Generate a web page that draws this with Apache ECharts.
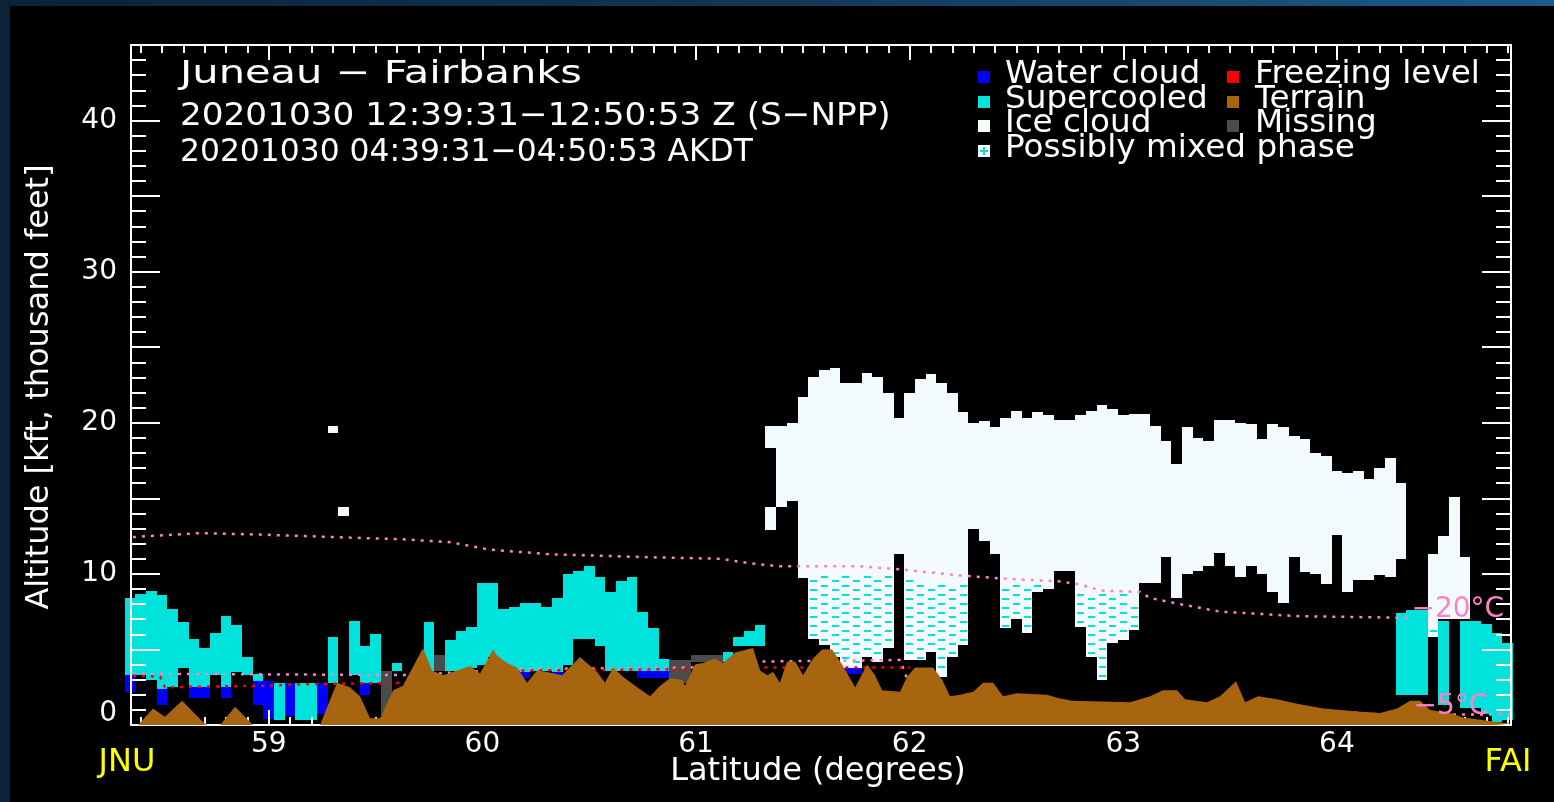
<!DOCTYPE html>
<html>
<head>
<meta charset="utf-8">
<title>Juneau - Fairbanks cloud profile</title>
<script src="https://cdn.jsdelivr.net/npm/echarts@6/dist/echarts.min.js"></script>
<style>
  html, body { margin: 0; padding: 0; width: 1554px; height: 802px; overflow: hidden;
    background: linear-gradient(90deg, #0b2338 0%, #113452 45%, #1b5c8a 100%); }
  #panel { position: absolute; left: 10px; top: 6px; right: 0; bottom: 0; background: #000; }
  #chart { position: absolute; left: 0; top: 0; width: 1554px; height: 802px; }
</style>
</head>
<body>
<div id="panel"></div>
<div id="chart"></div>
<script>
// axis range: JNU .. FAI latitude, altitude in kft
const latMin = 58.355, latMax = 64.815;
const latTicks = [59, 60, 61, 62, 63, 64];
const altMax = 45;
const colHalf = 0.025;   // half width of one profile column (deg)

// profile columns: [latitude, bottom kft, top kft]
const waterCloud = [
  [58.35, 2.2, 3.3], [58.50, 1.3, 2.4], [58.65, 1.8, 2.5], [58.70, 1.8, 2.5], [58.80, 1.8, 2.5],
  [58.95, 1.3, 2.9], [59.00, 0.4, 2.9], [59.10, 0.6, 2.8], [59.25, 0.7, 2.8], [59.45, 2.0, 2.8],
  [60.20, 3.1, 3.5], [60.35, 3.1, 3.5], [60.75, 3.1, 3.6], [60.80, 3.1, 3.6], [60.85, 3.1, 3.6],
  [61.70, 3.4, 3.8], [61.75, 3.4, 3.8]
];
const supercooled = [
  [58.35, 3.3, 8.4], [58.40, 3.3, 8.7], [58.45, 3.0, 8.9], [58.50, 2.4, 8.6], [58.55, 2.5, 7.7],
  [58.60, 3.8, 6.8], [58.65, 2.5, 5.7], [58.70, 2.5, 5.1], [58.75, 3.3, 6.1], [58.80, 2.5, 7.2],
  [58.85, 3.5, 6.6], [58.90, 3.3, 4.5], [58.95, 2.9, 3.4], [59.05, 0.3, 2.8], [59.15, 0.3, 2.8],
  [59.20, 0.3, 2.8], [59.30, 2.8, 5.8], [59.40, 3.3, 6.9], [59.45, 2.8, 5.2], [59.50, 2.8, 6.0],
  [59.60, 3.6, 4.1], [59.75, 3.6, 6.8], [59.85, 3.6, 5.6], [59.90, 3.6, 6.2], [59.95, 3.8, 6.5],
  [60.00, 4.0, 9.4], [60.05, 4.5, 9.4], [60.10, 4.0, 7.7], [60.15, 3.6, 7.8], [60.20, 3.5, 8.1],
  [60.25, 3.6, 8.1], [60.30, 3.6, 7.8], [60.35, 3.5, 8.4], [60.40, 4.0, 10.0], [60.45, 5.7, 10.2],
  [60.50, 5.7, 10.5], [60.55, 5.2, 9.8], [60.60, 3.6, 8.8], [60.65, 3.6, 9.5], [60.70, 3.6, 9.8],
  [60.75, 3.6, 7.5], [60.80, 3.6, 6.4], [60.85, 3.6, 4.4], [61.15, 4.2, 4.8], [61.20, 5.2, 5.8],
  [61.25, 5.2, 6.2], [61.30, 5.2, 6.6],
  [64.30, 2.0, 7.4], [64.35, 2.0, 7.6], [64.40, 2.0, 7.6], [64.50, 1.3, 6.9], [64.60, 1.1, 6.9],
  [64.65, 1.1, 6.9], [64.70, 0.7, 6.7], [64.75, 0.2, 6.1], [64.80, 0.3, 5.4]
];
const iceCloud = [
  [59.30, 19.3, 19.8], [59.35, 13.8, 14.4],
  [61.35, 12.9, 14.4], [61.35, 18.3, 19.8], [61.40, 14.4, 19.8], [61.45, 14.8, 20.0],
  [61.50, 10.4, 21.7], [61.55, 10.4, 23.0], [61.60, 10.4, 23.5], [61.65, 10.4, 23.6],
  [61.70, 10.4, 22.6], [61.75, 10.4, 22.6], [61.80, 10.3, 23.3], [61.85, 10.3, 23.0],
  [61.90, 10.3, 22.0], [61.95, 11.3, 20.3], [62.00, 10.1, 22.0], [62.05, 9.9, 22.9],
  [62.10, 9.9, 23.2], [62.15, 9.9, 22.6], [62.20, 9.9, 22.0], [62.25, 9.8, 20.7],
  [62.30, 13.0, 20.0], [62.35, 12.2, 20.1], [62.40, 11.3, 19.7], [62.45, 9.6, 20.3],
  [62.50, 9.6, 20.8], [62.55, 9.6, 20.3], [62.60, 9.5, 20.7], [62.65, 9.5, 20.5],
  [62.70, 10.2, 20.2], [62.75, 10.2, 20.2], [62.80, 9.2, 20.5], [62.85, 9.1, 20.8],
  [62.90, 9.0, 21.2], [62.95, 8.9, 20.9], [63.00, 8.9, 20.5], [63.05, 8.8, 20.6],
  [63.10, 9.4, 20.6], [63.15, 9.4, 19.8], [63.20, 11.1, 18.8], [63.25, 8.4, 17.3],
  [63.30, 10.0, 19.7], [63.35, 10.2, 19.0], [63.40, 10.5, 18.8], [63.45, 11.4, 20.2],
  [63.50, 10.5, 20.2], [63.55, 9.8, 20.0], [63.60, 10.5, 19.9], [63.65, 10.0, 18.9],
  [63.70, 8.8, 19.9], [63.75, 8.1, 19.7], [63.80, 11.1, 19.1], [63.85, 10.1, 18.9],
  [63.90, 10.0, 18.0], [63.95, 9.3, 17.8], [64.00, 12.6, 16.8], [64.05, 8.8, 16.7],
  [64.10, 9.6, 16.8], [64.15, 9.6, 16.3], [64.20, 9.9, 17.0], [64.25, 9.8, 17.7],
  [64.30, 11.0, 16.0], [64.45, 6.8, 11.3], [64.50, 7.0, 12.5], [64.55, 7.0, 15.1],
  [64.60, 7.0, 11.1]
];
const mixedPhase = [
  [61.50, 9.7, 10.4], [61.55, 5.7, 10.4], [61.60, 5.3, 10.4], [61.65, 4.5, 10.4],
  [61.70, 3.8, 10.4], [61.75, 3.8, 10.4], [61.80, 4.5, 10.3], [61.85, 4.2, 10.3],
  [61.90, 5.1, 10.3], [62.00, 4.3, 10.1], [62.05, 4.3, 9.9], [62.10, 4.8, 9.9],
  [62.15, 3.2, 9.9], [62.20, 4.5, 9.9], [62.25, 5.3, 9.8], [62.45, 6.4, 9.6],
  [62.50, 7.0, 9.6], [62.55, 6.1, 9.6], [62.60, 8.8, 9.5], [62.65, 9.0, 9.5],
  [62.80, 6.5, 9.2], [62.85, 4.5, 9.1], [62.90, 3.0, 9.0], [62.95, 5.4, 8.9],
  [63.00, 5.6, 8.9], [63.05, 6.3, 8.8], [64.45, 5.8, 6.8]
];
const missing = [
  [59.55, 0.65, 3.6], [59.80, 3.6, 4.6], [60.90, 2.8, 4.3], [60.95, 2.8, 4.3],
  [61.00, 4.2, 4.6], [61.05, 4.2, 4.6], [61.10, 4.2, 4.6]
];

// terrain height along track: [latitude, kft]
const terrain = [
  [58.322, 0], [58.388, 0], [58.458, 1.1], [58.514, 0.55], [58.594, 1.6], [58.692, 0.2], [58.711, 0],
  [58.772, 0], [58.842, 1.2], [58.926, 0], [59.240, 0], [59.319, 2.8], [59.380, 2.5], [59.427, 1.9],
  [59.474, 0.45], [59.521, 0.45], [59.582, 2.3], [59.628, 2.6], [59.722, 5.1], [59.764, 3.6],
  [59.816, 3.3], [59.881, 3.6], [59.942, 3.9], [59.989, 3.4], [60.050, 5.0], [60.068, 4.6],
  [60.115, 4.1], [60.162, 3.8], [60.209, 2.8], [60.256, 3.6], [60.303, 3.5], [60.373, 3.3],
  [60.457, 4.5], [60.537, 3.5], [60.574, 2.8], [60.612, 3.8], [60.658, 3.2], [60.724, 2.5],
  [60.785, 1.9], [60.832, 2.6], [60.878, 3.1], [60.935, 3.0], [60.949, 2.6], [60.995, 4.0],
  [61.033, 4.1], [61.089, 4.4], [61.127, 4.1], [61.183, 4.8], [61.239, 5.0], [61.267, 5.1],
  [61.300, 3.6], [61.333, 3.3], [61.361, 3.5], [61.393, 2.8], [61.426, 4.2], [61.464, 4.2],
  [61.501, 3.3], [61.548, 4.4], [61.590, 5.0], [61.637, 5.0], [61.684, 4.0], [61.745, 2.5],
  [61.801, 4.0], [61.838, 3.3], [61.871, 2.3], [61.955, 2.2], [61.988, 3.2], [62.025, 3.8],
  [62.110, 3.8], [62.152, 3.0], [62.189, 1.9], [62.236, 2.0], [62.297, 2.2], [62.344, 2.8],
  [62.391, 2.8], [62.437, 1.9], [62.503, 2.1], [62.643, 2.0], [62.690, 1.8], [62.760, 1.6],
  [63.032, 1.5], [63.126, 1.9], [63.186, 2.3], [63.252, 2.3], [63.289, 1.7], [63.392, 1.5],
  [63.453, 1.9], [63.528, 2.9], [63.570, 1.5], [63.631, 1.9], [63.720, 1.7], [63.814, 1.4],
  [63.936, 1.1], [64.095, 0.9], [64.202, 0.8], [64.282, 1.1], [64.343, 1.6], [64.390, 1.6],
  [64.436, 1.0], [64.530, 0.8], [64.591, 0.5], [64.750, 0.2], [64.815, 0.1]
];

// freezing level and isotherms: [latitude, kft]
const freezingLevel = [
  [58.322, 3.3], [58.491, 3.2], [58.514, 2.5], [58.992, 2.6], [59.146, 2.7], [59.661, 2.8],
  [60.129, 3.6], [60.972, 3.7], [61.300, 3.8], [62.002, 3.8]
];
const isoMinus5 = [
  [58.322, 3.4], [59.661, 3.3], [60.129, 3.7], [60.972, 3.8], [61.300, 4.2], [61.955, 4.3],
  [62.030, 1.5], [63.900, 1.0], [64.200, 0.7], [64.815, 0.7]
];
const isoMinus20 = [
  [58.322, 12.4], [58.678, 12.7], [58.959, 12.6], [59.380, 12.4], [59.614, 12.3], [59.848, 12.1],
  [60.036, 11.6], [60.317, 11.3], [60.785, 11.1], [61.112, 11.0], [61.253, 10.7], [61.393, 10.5],
  [61.768, 10.5], [61.955, 10.3], [62.236, 9.9], [62.423, 9.7], [62.704, 9.5], [62.798, 9.3],
  [62.892, 8.9], [63.079, 8.8], [63.126, 8.4], [63.266, 8.0], [63.453, 7.5], [63.828, 7.2],
  [64.296, 7.1], [64.340, 7.1]
];

const titleLines = ['Juneau \u2212 Fairbanks',
  '20201030 12:39:31\u221212:50:53 Z (S\u2212NPP)',
  '20201030 04:39:31\u221204:50:53 AKDT'];

const C = {
  water: '#0000ff', cyan: '#00e2dc', ice: '#f2fafe', terrain: '#a8650f',
  missing: '#4b4b4b', red: '#ff0000', pink: '#ff80c8', yellow: '#ffff00', white: '#ffffff'
};
const FONT = 'DejaVu Sans';

// minor latitude ticks every 0.1 deg
const latMinor = [];
for (let k = 584; k <= 648; k++) if (k % 10) latMinor.push(k / 10);

function colRect(api) {
  const lat = api.value(0);
  const a = api.coord([lat - colHalf, api.value(2)]);
  const b = api.coord([lat + colHalf, api.value(1)]);
  const x0 = Math.round(a[0]), x1 = Math.round(b[0]);
  const y0 = Math.round(a[1]), y1 = Math.round(b[1]);
  return { x: x0, y: y0, width: x1 - x0, height: y1 - y0 };
}
function solidColumns(color) {
  return function (params, api) {
    return { type: 'rect', shape: colRect(api), style: { fill: color } };
  };
}
function mixedColumns(params, api) {
  const r = colRect(api);
  const kids = [{ type: 'rect', shape: r, style: { fill: C.ice } }];
  const shift = params.dataIndex % 2 ? 4 : 0;
  for (let y = Math.ceil((r.y + 3) / 9) * 9 + shift; y < r.y + r.height - 2; y += 9) {
    kids.push({ type: 'rect', shape: { x: r.x + 2, y: y, width: Math.min(7, r.width - 3), height: 2 },
      style: { fill: C.cyan } });
  }
  return { type: 'group', children: kids };
}
function columnSeries(name, data, renderItem) {
  return { type: 'custom', name: name, data: data, renderItem: renderItem, clip: false,
    z: 1, silent: true, encode: { x: 0, y: [1, 2] } };
}
function dotted(name, data, color) {
  return { type: 'line', name: name, data: data, symbol: 'none', z: 4, silent: true,
    lineStyle: { color: color, width: 2.5, type: [3, 6] } };
}

const tickLine = { lineStyle: { color: C.white, width: 2 } };
function latAxis(pos, values, len, showLine, showLabel) {
  return {
    type: 'value', position: pos, min: latMin, max: latMax, z: 3,
    axisLine: { show: showLine, lineStyle: { color: C.white, width: 2 } },
    axisTick: Object.assign({ inside: true, length: len, customValues: values }, tickLine),
    axisLabel: { show: showLabel, customValues: latTicks, color: C.white, fontSize: 28,
      fontFamily: FONT, margin: 6 },
    splitLine: { show: false }
  };
}
function altAxis(pos, showLabel) {
  return {
    type: 'value', position: pos, min: 0, max: altMax, interval: 5, z: 3,
    axisLine: { show: true, lineStyle: { color: C.white, width: 2 } },
    axisTick: Object.assign({ inside: true, length: 29 }, tickLine),
    minorTick: { show: true, splitNumber: 5, length: 15, lineStyle: { color: C.white, width: 2 } },
    axisLabel: {
      show: showLabel, color: C.white, fontSize: 28, fontFamily: FONT, margin: 14,
      formatter: v => (v % 10 ? '' : (v === 0 ? '{lo|0}' : String(v))),
      rich: { lo: { fontSize: 28, fontFamily: FONT, color: C.white, padding: [0, 0, 22, 0] } }
    },
    splitLine: { show: false }, minorSplitLine: { show: false }
  };
}

const chart = echarts.init(document.getElementById('chart'), null, { renderer: 'canvas' });
chart.setOption({
  backgroundColor: 'transparent',
  animation: false,
  grid: { left: 131, right: 43, top: 45, bottom: 77 },
  xAxis: [
    latAxis('bottom', latTicks, 15, true, true),
    latAxis('bottom', latMinor, 8, false, false),
    latAxis('top', latTicks, 15, true, false),
    latAxis('top', latMinor, 8, false, false)
  ],
  yAxis: [altAxis('left', true), altAxis('right', false)],
  series: [
    columnSeries('Water cloud', waterCloud, solidColumns(C.water)),
    columnSeries('Supercooled', supercooled, solidColumns(C.cyan)),
    columnSeries('Ice cloud', iceCloud, solidColumns(C.ice)),
    columnSeries('Possibly mixed phase', mixedPhase, mixedColumns),
    columnSeries('Missing', missing, solidColumns(C.missing)),
    dotted('-20C', isoMinus20, C.pink),
    dotted('-5C', isoMinus5, C.pink),
    dotted('Freezing level', freezingLevel, C.red),
    { type: 'line', name: 'Terrain', data: terrain, symbol: 'none', z: 5, silent: true,
      lineStyle: { width: 0 }, areaStyle: { color: C.terrain, opacity: 1 } }
  ]
});

// texts, legend and isotherm labels
function txt(x, y, text, size, color, opts) {
  return Object.assign({ type: 'text', x: x, y: y, z: 100, silent: true,
    style: { text: text, fill: color, font: size + 'px "' + FONT + '"',
      align: 'left', verticalAlign: 'middle' } }, opts || {});
}
const g = [];
g.push(txt(180, 75, titleLines[0], 32, C.white, { scaleX: 1.3 }));
g.push(txt(180, 117, titleLines[1], 32, C.white, { scaleX: 1.07 }));
g.push(txt(180, 153, titleLines[2], 32, C.white, { scaleX: 0.98 }));

const legendLeft = [['Water cloud', C.water], ['Supercooled', C.cyan], ['Ice cloud', C.ice],
  ['Possibly mixed phase', 'mixed']];
const legendRight = [['Freezing level', C.red], ['Terrain', C.terrain], ['Missing', C.missing]];
[[legendLeft, 978, 1005], [legendRight, 1227, 1255]].forEach(function (col) {
  col[0].forEach(function (item, i) {
    const yc = 77 + i * 24.5;
    const fill = item[1] === 'mixed' ? C.ice : item[1];
    g.push({ type: 'rect', z: 100, silent: true, shape: { x: col[1], y: Math.round(yc - 6), width: 12, height: 12 },
      style: { fill: fill } });
    if (item[1] === 'mixed') {
      g.push({ type: 'rect', z: 101, silent: true, shape: { x: col[1] + 5, y: Math.round(yc - 4), width: 2, height: 8 }, style: { fill: C.cyan } });
      g.push({ type: 'rect', z: 101, silent: true, shape: { x: col[1] + 2, y: Math.round(yc - 1), width: 8, height: 2 }, style: { fill: C.cyan } });
    }
    g.push(txt(col[2], yc - 2, item[0], 32, C.white, { scaleX: 1.02 }));
  });
});

g.push(txt(40, 387, 'Altitude [kft, thousand feet]', 32, C.white,
  { rotation: Math.PI / 2, style: { text: 'Altitude [kft, thousand feet]', fill: C.white,
    font: '32px "' + FONT + '"', align: 'center', verticalAlign: 'middle' } }));
g.push(txt(818, 772, 'Latitude (degrees)', 32, C.white,
  { style: { text: 'Latitude (degrees)', fill: C.white, font: '32px "' + FONT + '"', align: 'center', verticalAlign: 'middle' } }));

const pJ = chart.convertToPixel({ xAxisIndex: 0, yAxisIndex: 0 }, [latMin, 0]);
const pF = chart.convertToPixel({ xAxisIndex: 0, yAxisIndex: 0 }, [latMax, 0]);
['JNU', 'FAI'].forEach(function (s, i) {
  const p = i ? pF : pJ;
  g.push(txt(p[0] - (i ? 3 : 4), p[1] + 38, s, 32, C.yellow,
    { style: { text: s, fill: C.yellow, font: '32px "' + FONT + '"', align: 'center', verticalAlign: 'middle' } }));
});

const end20 = isoMinus20[isoMinus20.length - 1];
const p20 = chart.convertToPixel({ xAxisIndex: 0, yAxisIndex: 0 }, [end20[0], end20[1]]);
g.push(txt(p20[0] + 2, p20[1] - 8, '\u221220\u00b0C', 28, C.pink));
const p5 = chart.convertToPixel({ xAxisIndex: 0, yAxisIndex: 0 }, [end20[0], 1.2]);
g.push(txt(p5[0] + 4, p5[1], '\u22125\u00b0C', 28, C.pink));

chart.setOption({ graphic: g });
</script>
</body>
</html>
